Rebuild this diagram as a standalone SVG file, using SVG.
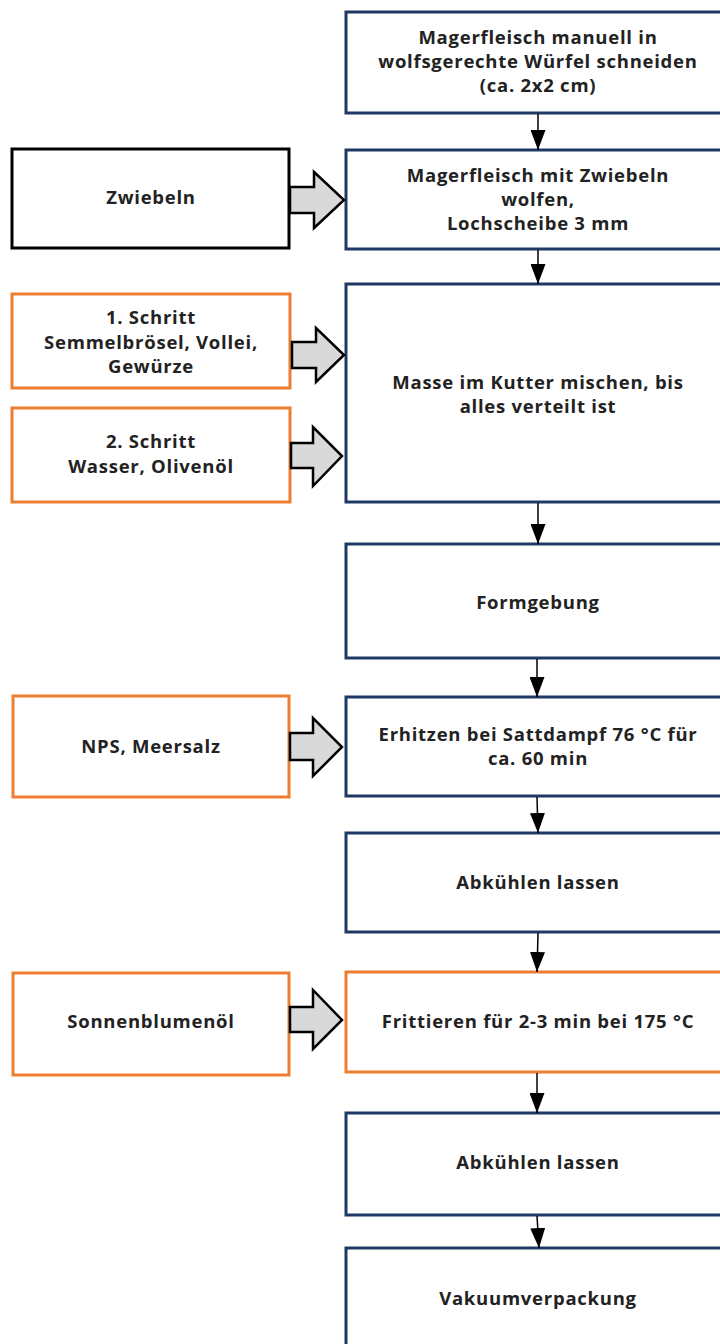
<svg xmlns="http://www.w3.org/2000/svg" width="720" height="1344" viewBox="0 0 720 1344">
<defs>
<style>
.n{fill:#fff;stroke:#1f3864;stroke-width:3}
.o{fill:#fff;stroke:#ed7d31;stroke-width:3}
.k{fill:#fff;stroke:#000;stroke-width:3}
text{font-family:"Open Sans","Noto Sans",sans-serif;font-weight:bold;font-size:18.5px;letter-spacing:0.75px;fill:#222;text-anchor:middle}
.c line{stroke:#000;stroke-width:1.5}
.b{fill:#d9d9d9;stroke:#000;stroke-width:2.5;stroke-linejoin:miter}
</style>
<marker id="ah" viewBox="0 0 20 15" refX="20" refY="7.5" markerWidth="20" markerHeight="15" markerUnits="userSpaceOnUse" orient="auto">
<path d="M0,0 L20,7.5 L0,15 Z" fill="#000"/>
</marker>
</defs>
<rect width="720" height="1344" fill="#fff"/>
<g id="n1"><rect class="n" x="346" y="12" width="390" height="101"/>
<text x="538" y="44">Magerfleisch manuell in</text><text x="538" y="68">wolfsgerechte Würfel schneiden</text><text x="538" y="92">(ca. 2x2 cm)</text></g>
<g id="n2"><rect class="n" x="346" y="150" width="390" height="99"/>
<text x="538" y="182">Magerfleisch mit Zwiebeln</text><text x="538" y="206">wolfen,</text><text x="538" y="230">Lochscheibe 3 mm</text></g>
<g id="n3"><rect class="n" x="346" y="284" width="390" height="218"/>
<text x="538" y="389">Masse im Kutter mischen, bis</text><text x="538" y="413">alles verteilt ist</text></g>
<g id="n4"><rect class="n" x="346" y="544" width="390" height="114"/>
<text x="538" y="609">Formgebung</text></g>
<g id="n5"><rect class="n" x="346" y="697" width="390" height="99"/>
<text x="538" y="741">Erhitzen bei Sattdampf 76 °C für</text><text x="538" y="765">ca. 60 min</text></g>
<g id="n6"><rect class="n" x="346" y="833" width="390" height="99"/>
<text x="538" y="889">Abkühlen lassen</text></g>
<g id="n7"><rect class="o" x="346" y="972" width="390" height="100"/>
<text x="538" y="1028">Frittieren für 2-3 min bei 175 °C</text></g>
<g id="n8"><rect class="n" x="346" y="1113" width="390" height="102"/>
<text x="538" y="1169">Abkühlen lassen</text></g>
<g id="n9"><rect class="n" x="346" y="1248" width="390" height="120"/>
<text x="538" y="1305">Vakuumverpackung</text></g>
<g id="l1"><rect class="k" x="12" y="149" width="277" height="99"/>
<text x="151" y="204">Zwiebeln</text></g>
<g id="l2"><rect class="o" x="12" y="294" width="278" height="94"/>
<text x="151" y="324">1. Schritt</text><text x="151" y="349">Semmelbrösel, Vollei,</text><text x="151" y="373">Gewürze</text></g>
<g id="l3"><rect class="o" x="12" y="408" width="278" height="94"/>
<text x="151" y="448">2. Schritt</text><text x="151" y="473">Wasser, Olivenöl</text></g>
<g id="l4"><rect class="o" x="13" y="696" width="276" height="101"/>
<text x="151" y="753">NPS, Meersalz</text></g>
<g id="l5"><rect class="o" x="13" y="973" width="276" height="102"/>
<text x="151" y="1028">Sonnenblumenöl</text></g>
<g id="connectors" class="c">
<line x1="538" y1="114" x2="538" y2="150" marker-end="url(#ah)"/>
<line x1="538" y1="250" x2="538" y2="284" marker-end="url(#ah)"/>
<line x1="538" y1="503" x2="538" y2="544" marker-end="url(#ah)"/>
<line x1="537" y1="659" x2="537" y2="697" marker-end="url(#ah)"/>
<line x1="537" y1="797" x2="538" y2="833" marker-end="url(#ah)"/>
<line x1="538" y1="933" x2="537" y2="972" marker-end="url(#ah)"/>
<line x1="537" y1="1073" x2="537" y2="1113" marker-end="url(#ah)"/>
<line x1="537" y1="1216" x2="539" y2="1248" marker-end="url(#ah)"/>
<path class="b" d="M290,187 L314,187 L314,172 L344,200 L314,228 L314,213 L290,213 Z"/>
<path class="b" d="M292,342 L316,342 L316,328 L344,355 L316,382 L316,368 L292,368 Z"/>
<path class="b" d="M291,443 L313,443 L313,427 L342,456 L313,486 L313,468 L291,468 Z"/>
<path class="b" d="M290,733 L313,733 L313,718 L342,747 L313,776 L313,760 L290,760 Z"/>
<path class="b" d="M290,1007 L313,1007 L313,990 L342,1020 L313,1049 L313,1032 L290,1032 Z"/>
</g>
</svg>
